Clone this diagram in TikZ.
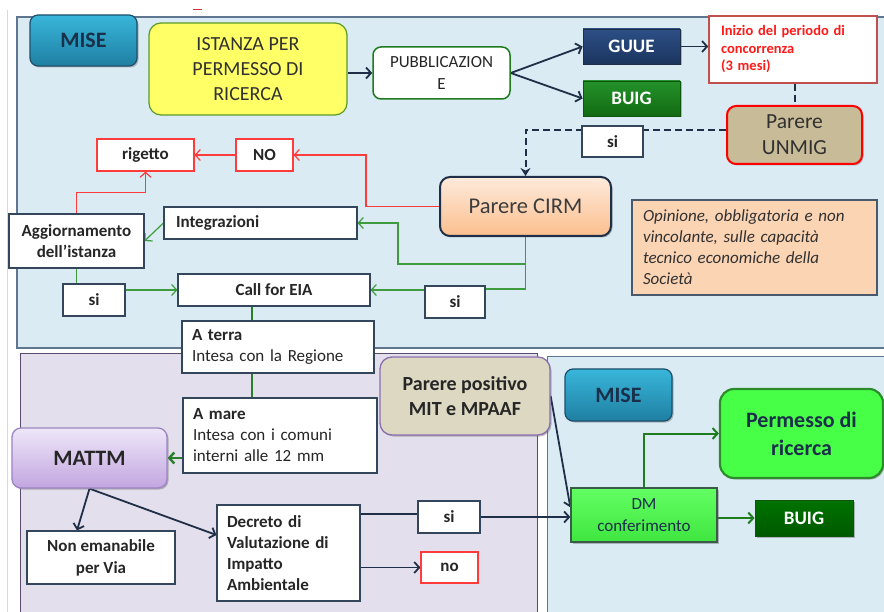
\documentclass[tikz,border=0pt]{standalone}
\usepackage{fontspec}
\setmainfont{Carlito}
\usetikzlibrary{arrows.meta,shadows}
\definecolor{panelblue}{HTML}{DAEBF3}
\definecolor{panelbord}{HTML}{5F7690}
\definecolor{lav}{HTML}{E4DFEC}
\definecolor{lavbord}{HTML}{5A4A6E}
\definecolor{navy}{HTML}{1F2F48}
\definecolor{txt}{HTML}{262626}
\definecolor{boxb}{HTML}{34465C}
\definecolor{gline}{HTML}{3E9B3E}
\definecolor{gthickc}{HTML}{2A7F2A}
\definecolor{gdark}{HTML}{1E7B1E}
\definecolor{rline}{HTML}{FF3B3B}
\definecolor{tealtop}{HTML}{38B6DA}
\definecolor{tealbot}{HTML}{1F7FA2}
\definecolor{tealbord}{HTML}{1C4F6C}
\definecolor{misetxt}{HTML}{1B2F4A}
\definecolor{yfill}{HTML}{FFFF66}
\definecolor{ybord}{HTML}{5A9A2A}
\definecolor{bluetop}{HTML}{2D4F86}
\definecolor{bluebot}{HTML}{1B355E}
\definecolor{greentop}{HTML}{24922A}
\definecolor{greenbot}{HTML}{126A12}
\definecolor{inizbord}{HTML}{C0504D}
\definecolor{iniztxt}{HTML}{FF1A1A}
\definecolor{tan}{HTML}{C8BB97}
\definecolor{peachtop}{HTML}{FEEADB}
\definecolor{peachbot}{HTML}{FBBF8E}
\definecolor{peach}{HTML}{FBD4B4}
\definecolor{lavtop}{HTML}{EEE7F8}
\definecolor{lavbot}{HTML}{C2A6E0}
\definecolor{lavnode}{HTML}{9C84C2}
\definecolor{beige}{HTML}{DDD8C2}
\definecolor{beigebord}{HTML}{8A6FAF}
\definecolor{brightg}{HTML}{47FF47}
\definecolor{brightgb}{HTML}{2C8C2C}
\definecolor{dmbord}{HTML}{3A5A4A}
\pgfdeclarelayer{panels}
\pgfdeclarelayer{conns}
\pgfsetlayers{panels,conns,main}
\tikzset{
  sz/.style 2 args={minimum width=#1pt, minimum height=#2pt},
  shad/.style={drop shadow={shadow xshift=1.5pt, shadow yshift=-1.5pt, opacity=0.35, fill=black!70}},
  wbox/.style={draw=boxb, fill=white, line width=1.1pt, text=txt, inner sep=2pt,
    align=center, font=\bfseries\fontsize{17}{21}\selectfont},
  redbox/.style={wbox, draw=rline},
  lbox/.style={draw=boxb, fill=white, line width=1.1pt, text=txt, inner ysep=2pt,
    align=left, font=\fontsize{17}{21}\selectfont},
  misebox/.style={rounded corners=8pt, draw=tealbord, top color=tealtop, bottom color=tealbot,
    line width=1.2pt, text=misetxt, font=\bfseries\fontsize{22}{26}\selectfont, shad},
  bluebox/.style={draw=navy, top color=bluetop, bottom color=bluebot, line width=0.8pt,
    text=white, font=\bfseries\fontsize{19}{22}\selectfont, shad},
  greenbox/.style={draw=greenbot!80!black, top color=greentop, bottom color=greenbot, line width=0.8pt,
    text=white, font=\bfseries\fontsize{19}{22}\selectfont, shad},
  narr/.style={draw=navy, line width=1.8pt, -{Straight Barb[length=5pt,width=11pt]}},
  nline/.style={draw=navy, line width=1.8pt},
  garr/.style={draw=gline, line width=1.2pt, -{Straight Barb[length=5pt,width=11pt]}},
  gln/.style={draw=gline, line width=1.2pt},
  gthick/.style={draw=gthickc, line width=2.4pt},
  gdarr/.style={draw=gdark, line width=2pt, -{Straight Barb[length=5pt,width=11pt]}},
  rarr/.style={draw=rline, line width=1.2pt, -{Straight Barb[length=5pt,width=11pt]}},
  rln/.style={draw=rline, line width=1.2pt},
  dline/.style={draw=navy, line width=2pt, dash pattern=on 7pt off 4pt},
}
\begin{document}
\begin{tikzpicture}[x=1pt,y=-1pt]
\useasboundingbox (0,0) rectangle (884,612);
\clip (0,0) rectangle (884,612);
\begin{pgfonlayer}{panels}
\fill[white] (0,0) rectangle (884,612);
\draw[black!15, line width=0.8pt] (7.5,10) -- (7.5,612);
\draw[red!60!gray, line width=1pt] (193,9.5) -- (202,9.5);
\draw[panelbord, fill=panelblue, line width=1.2pt] (17,17) rectangle (900,348);
\draw[lavbord, fill=lav, line width=1pt] (20,354) rectangle (537,630);
\draw[panelbord, fill=panelblue, line width=1pt] (547,357) rectangle (900,630);
\end{pgfonlayer}

% top panel
\node[misebox, sz={107}{51}] (mise1) at (83.5,40.5) {MISE};
\node[draw=ybord, fill=yfill, rounded corners=12pt, line width=1.2pt, sz={198}{92},
  font=\fontsize{20}{25}\selectfont, text=txt!95, align=center] (ist) at (248,69)
  {ISTANZA PER\\PERMESSO DI\\RICERCA};
\node[draw=gdark, fill=white, rounded corners=8pt, line width=1.5pt, sz={137}{52},
  font=\fontsize{17}{22}\selectfont, text=txt, align=center] (pub) at (441.5,73)
  {PUBBLICAZION\\E};
\node[bluebox, sz={97}{35}] (guue) at (631.5,46.5) {GUUE};
\node[greenbox, sz={97}{35}] (buig1) at (631.5,98.5) {BUIG};
\node[draw=inizbord, line width=1.5pt, fill=white, text=iniztxt,
  font=\bfseries\fontsize{14.5}{17.5}\selectfont, text width=144pt, inner xsep=12pt,
  align=left, minimum height=67pt] (inizio) at (793,49.5)
  {Inizio del periodo di\\concorrenza\\(3 mesi)};
\node[rounded corners=9pt, fill=tan, draw=red, line width=2pt, sz={135}{58},
  font=\fontsize{21.5}{26}\selectfont, text=txt!95, align=center, shad] (unmig) at (794.5,135)
  {Parere\\UNMIG};
\node[wbox, sz={61}{31}] (sitop) at (612.5,141.5) {si};
\node[rounded corners=10pt, top color=peachtop, bottom color=peachbot, draw=navy,
  line width=2pt, sz={171}{59}, font=\fontsize{22.5}{26}\selectfont, text=txt!90, shad]
  (cirm) at (525.5,206.5) {Parere CIRM};
\node[fill=peach, draw=boxb!90, line width=1.2pt, text=txt!95,
  font=\itshape\fontsize{17}{21}\selectfont, text width=223pt, inner xsep=11pt,
  align=left, minimum height=95pt] (opin) at (754.5,247.5)
  {Opinione, obbligatoria e non\\vincolante, sulle capacità\\tecnico economiche della\\Società};
\node[redbox, sz={57}{32}] (no1) at (264.5,155) {NO};
\node[redbox, sz={97}{32}] (rig) at (145.5,155) {rigetto};
\node[wbox, sz={135}{54}] (agg) at (76.5,241) {Aggiornamento\\dell’istanza};
\node[wbox, text width=169pt, inner xsep=12pt, align=left, minimum height=32pt]
  (integ) at (260.5,223) {Integrazioni};
\node[wbox, sz={60}{32}] (si2) at (455,302) {si};
\node[wbox, sz={192}{32}] (call) at (274,290) {Call for EIA};
\node[wbox, sz={62}{32}] (si1) at (94,300) {si};
\node[lbox, text width=172pt, inner xsep=10pt, minimum height=52pt] (aterra) at (278,347)
  {\textbf{A terra}\\Intesa con la Regione};

% lower left panel
\node[lbox, text width=174pt, inner xsep=10pt, minimum height=75pt] (amare) at (280,435.5)
  {\textbf{A mare}\\Intesa con i comuni\\interni alle 12 mm};
\node[rounded corners=9pt, top color=lavtop, bottom color=lavbot, draw=lavnode,
  line width=1.3pt, sz={155}{60}, font=\bfseries\fontsize{22}{26}\selectfont, text=txt, shad]
  (mattm) at (89.5,458) {MATTM};
\node[wbox, sz={148}{53}, font=\bfseries\fontsize{17}{22}\selectfont] (nonem) at (101,557.5)
  {Non emanabile\\per Via};
\node[wbox, text width=123pt, inner xsep=10pt, align=left, minimum height=96pt] (decr)
  at (288.5,553) {Decreto di\\Valutazione di\\Impatto\\Ambientale};
\node[wbox, sz={62}{32}] (si3) at (449,517) {si};
\node[redbox, sz={57}{31}] (no2) at (449.5,567.5) {no};
\node[rounded corners=12pt, fill=beige, draw=beigebord, line width=1.3pt, sz={170}{78},
  font=\bfseries\fontsize{20}{25}\selectfont, text=txt, align=center, shad] (parpos)
  at (465,396) {Parere positivo\\MIT e MPAAF};

% lower right panel
\node[misebox, sz={107}{52}] (mise2) at (618.5,395) {MISE};
\node[rounded corners=14pt, fill=brightg, draw=brightgb, line width=2.2pt, sz={163}{89},
  font=\bfseries\fontsize{22}{28}\selectfont, text=misetxt, align=center, shad] (perm)
  at (801.5,433.5) {Permesso di\\ricerca};
\node[top color=brightg!85!white, bottom color=brightg!90!black, draw=dmbord, line width=1.3pt,
  sz={146}{54}, font=\fontsize{17}{22}\selectfont, text=misetxt, align=center, shad] (dm)
  at (644,515) {DM\\conferimento};
\node[greenbox, top color=green!45!black, bottom color=green!35!black, sz={98}{36}] (buig2)
  at (804,518) {BUIG};

\begin{pgfonlayer}{conns}
% navy top
\draw[narr] (ist.east |- pub.west) -- (pub.west);
\draw[narr] (pub.east) -- (guue.west);
\draw[narr] (pub.east) -- (buig1.west);
\draw[narr] (guue.east) -- (guue.east -| inizio.west);
\draw[dline] (unmig.north |- inizio.south) -- (unmig.north);
\draw[dline, -{Stealth[length=8pt,width=10pt]}] ([yshift=5pt]unmig.west) -- ([yshift=5pt]unmig.west -| sitop.east)
  -- ([yshift=5pt]unmig.west -| cirm.north) -- (cirm.north);
% red
\draw[rarr] (cirm.west) -- ++(-73,0) |- (no1.east);
\draw[rarr] (no1.west) -- (rig.east);
\draw[rarr] (agg.north) -- ++(0,-21) -| (rig.south);
% green
\draw[garr] (integ.west) -- (agg.east);
\draw[garr] (cirm.south) -- (cirm.south |- 0,264) -- (398,264) |- (integ.east);
\draw[gln] (cirm.south) |- ([yshift=13pt]si2.east);
\draw[garr] (si2.west |- call.east) -- (call.east);
\draw[gln] (agg.south) -- (agg.south |- si1.north);
\draw[garr] (si1.east |- call.west) -- (call.west);
\draw[gthick] ([xshift=-22pt]call.south) -- ([xshift=-22pt]call.south |- aterra.north);
\draw[gthick] ([xshift=-26pt]aterra.south) -- ([xshift=-26pt]aterra.south |- amare.north);
\draw[gthick, -{Straight Barb[length=5pt,width=11pt]}] (amare.west |- mattm.east) -- (mattm.east);
% navy lower
\draw[narr] (mattm.south) -- ([xshift=-24pt]nonem.north);
\draw[narr] (mattm.south) -- ([yshift=18pt]decr.west);
\draw[nline] ([yshift=39pt]decr.east) -- ([yshift=39pt]decr.east -| si3.west);
\draw[narr] (si3.east) -- (si3.east -| dm.west);
\draw[narr] (decr.east |- no2.west) -- (no2.west);
\draw[narr] (parpos.east) -- ([yshift=-20pt]dm.north west);
\draw[gdarr] (dm.north) |- (perm.west);
\draw[gdarr] (dm.east |- buig2.west) -- (buig2.west);
\end{pgfonlayer}
\end{tikzpicture}
\end{document}
